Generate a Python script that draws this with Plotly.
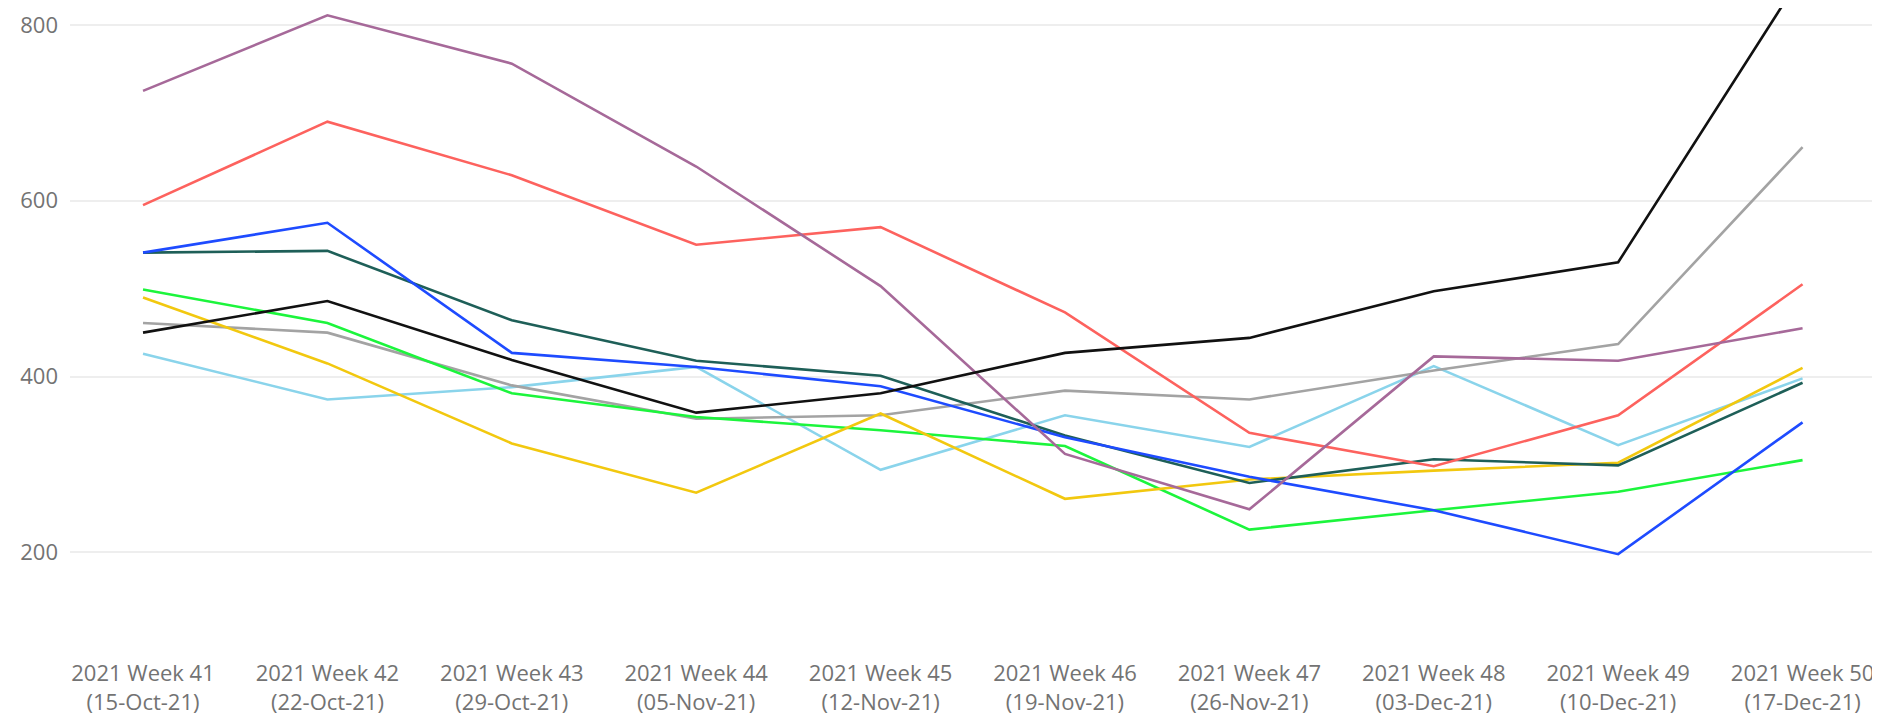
import plotly.graph_objects as go

weeks = ['2021 Week 41<br>(15-Oct-21)', '2021 Week 42<br>(22-Oct-21)', '2021 Week 43<br>(29-Oct-21)',
         '2021 Week 44<br>(05-Nov-21)', '2021 Week 45<br>(12-Nov-21)', '2021 Week 46<br>(19-Nov-21)',
         '2021 Week 47<br>(26-Nov-21)', '2021 Week 48<br>(03-Dec-21)', '2021 Week 49<br>(10-Dec-21)',
         '2021 Week 50<br>(17-Dec-21)']

# weekly values per series
purple = [725, 811, 756, 639, 503, 312, 249, 423, 418, 455]
red = [595, 690, 629, 550, 570, 473, 336, 298, 356, 505]
blue = [541, 575, 427, 411, 389, 331, 286, 248, 198, 348]
teal = [541, 543, 464, 418, 401, 333, 279, 306, 299, 393]
black = [450, 486, 419, 359, 381, 427, 444, 497, 530, 858]
gray = [461, 450, 390, 352, 356, 384, 374, 407, 437, 661]
green = [499, 461, 381, 354, 339, 321, 226, 248, 269, 305]
yellow = [490, 415, 324, 268, 358, 261, 283, 293, 302, 410]
lightblue = [426, 374, 388, 411, 294, 356, 320, 412, 322, 398]

series = [
  ('lightblue', lightblue, '#8AD4EB'),
  ('gray', gray, '#A3A3A3'),
  ('green', green, '#1CF53C'),
  ('yellow', yellow, '#F2C80F'),
  ('teal', teal, '#1E5F58'),
  ('blue', blue, '#1E4BFF'),
  ('red', red, '#FD625E'),
  ('purple', purple, '#A66999'),
  ('black', black, '#111111'),
]

fig = go.Figure()
for name, vals, col in series:
  fig.add_trace(go.Scatter(x=weeks, y=vals, name=name, mode='lines',
                           line=dict(color=col, width=2.6), showlegend=False))

# the page body has an 8px margin, so the figure is 8px smaller than the window
font = dict(family='Segoe UI, Open Sans, sans-serif', size=22, color='#737373')
fig.update_layout(
  width=1872, height=710,
  margin=dict(l=62, r=0, t=0, b=68),
  plot_bgcolor='white', paper_bgcolor='white',
  font=font,
)
fig.update_xaxes(type='category', range=[-0.396, 9.42], showgrid=False,
                 showline=False, zeroline=False, tickfont=font, ticks='',
                 ticklabelstandoff=8)
fig.update_yaxes(range=[89, 819.3], tickvals=[200, 400, 600, 800],
                 showgrid=True, gridcolor='#EEEEEE', gridwidth=1.5,
                 zeroline=False, showline=False, tickfont=font, ticklabelstandoff=11)

fig.write_html('out.html')
